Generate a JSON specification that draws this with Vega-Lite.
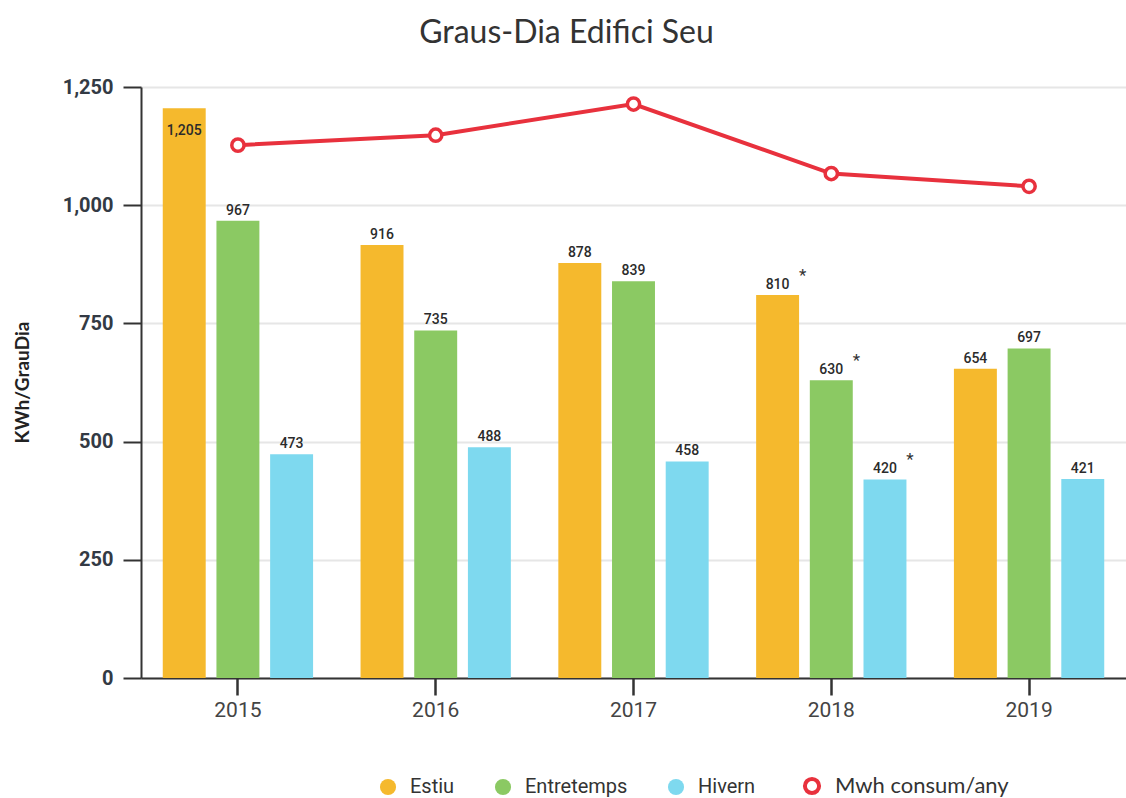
{
  "$schema": "https://vega.github.io/schema/vega-lite/v6.json",
  "width": 985,
  "height": 591,
  "autosize": {"type": "none"},
  "padding": {"left": 141, "top": 87, "right": 0, "bottom": 120},
  "background": "white",
  "title": {"text": "Graus-Dia Edifici Seu", "font": "Lato", "fontSize": 32, "fontWeight": "normal", "color": "#333333", "dx": -67, "offset": 27, "anchor": "middle"},
  "datasets": {
    "bars": [
      {"year": "2015", "serie": "Estiu", "value": 1205, "nota": ""},
      {"year": "2015", "serie": "Entretemps", "value": 967, "nota": ""},
      {"year": "2015", "serie": "Hivern", "value": 473, "nota": ""},
      {"year": "2016", "serie": "Estiu", "value": 916, "nota": ""},
      {"year": "2016", "serie": "Entretemps", "value": 735, "nota": ""},
      {"year": "2016", "serie": "Hivern", "value": 488, "nota": ""},
      {"year": "2017", "serie": "Estiu", "value": 878, "nota": ""},
      {"year": "2017", "serie": "Entretemps", "value": 839, "nota": ""},
      {"year": "2017", "serie": "Hivern", "value": 458, "nota": ""},
      {"year": "2018", "serie": "Estiu", "value": 810, "nota": "*"},
      {"year": "2018", "serie": "Entretemps", "value": 630, "nota": "*"},
      {"year": "2018", "serie": "Hivern", "value": 420, "nota": "*"},
      {"year": "2019", "serie": "Estiu", "value": 654, "nota": ""},
      {"year": "2019", "serie": "Entretemps", "value": 697, "nota": ""},
      {"year": "2019", "serie": "Hivern", "value": 421, "nota": ""}
    ],
    "line": [
      {"year": "2015", "serie": "Mwh consum/any", "value": 1127},
      {"year": "2016", "serie": "Mwh consum/any", "value": 1148},
      {"year": "2017", "serie": "Mwh consum/any", "value": 1214},
      {"year": "2018", "serie": "Mwh consum/any", "value": 1067},
      {"year": "2019", "serie": "Mwh consum/any", "value": 1040}
    ]
  },
  "config": {"view": {"stroke": null}},
  "encoding": {
    "x": {
      "field": "year", "type": "nominal",
      "scale": {"paddingInner": 0.24, "paddingOuter": 0.11},
      "axis": {"title": null, "labelAngle": 0, "labelFont": "Roboto", "labelFontSize": 21, "labelColor": "#444444", "labelPadding": 4, "tickSize": 17, "tickColor": "#333333", "tickWidth": 2.5, "domainColor": "#333333", "domainWidth": 2, "grid": false}
    },
    "y": {
      "field": "value", "type": "quantitative",
      "scale": {"domain": [0, 1250], "nice": false},
      "axis": {"values": [0, 250, 500, 750, 1000, 1250], "labelExpr": "format(datum.value, ',.0f')", "title": "KWh/GrauDia", "titleFont": "Lato", "titleFontSize": 19, "titleFontWeight": "bold", "titleColor": "#222222", "titleX": -119, "titleY": 295, "titleAngle": -90, "titleBaseline": "middle", "titleAlign": "center", "labelFont": "Roboto", "labelFontSize": 20, "labelFontWeight": "bold", "labelColor": "#333a44", "labelPadding": 10, "tickSize": 18, "tickColor": "#333333", "tickWidth": 2, "domainColor": "#333333", "domainWidth": 2, "grid": true, "gridColor": "#e6e6e6", "gridWidth": 2}
    }
  },
  "layer": [
    {
      "data": {"name": "bars"},
      "mark": {"type": "bar"},
      "encoding": {
        "xOffset": {"field": "serie", "type": "nominal", "scale": {"domain": ["Estiu", "Entretemps", "Hivern"], "paddingInner": 0.2}},
        "color": {
          "field": "serie", "type": "nominal",
          "scale": {"domain": ["Estiu", "Entretemps", "Hivern"], "range": ["#F5B92D", "#8BC963", "#7ED9EF"]},
          "legend": {
            "orient": "none", "legendX": 237, "legendY": 690, "direction": "horizontal", "title": null,
            "symbolType": "circle", "symbolSize": 260, "symbolOpacity": 1, "labelFont": "Roboto", "labelFontSize": 20, "labelColor": "#333333", "labelOffset": 12, "columnPadding": 38
          }
        }
      }
    },
    {
      "data": {"name": "bars"},
      "transform": [{"filter": "datum.value < 1200"}],
      "mark": {"type": "text", "baseline": "alphabetic", "dy": -6, "font": "Roboto", "fontSize": 14, "fontWeight": 500, "color": "#2b2b2b"},
      "encoding": {
        "xOffset": {"field": "serie", "type": "nominal", "scale": {"domain": ["Estiu", "Entretemps", "Hivern"], "paddingInner": 0.2}},
        "text": {"field": "value", "type": "quantitative", "format": ","}
      }
    },
    {
      "data": {"name": "bars"},
      "transform": [{"filter": "datum.value >= 1200"}],
      "mark": {"type": "text", "baseline": "alphabetic", "dy": 27, "font": "Roboto", "fontSize": 14, "fontWeight": 500, "color": "#2b2b2b"},
      "encoding": {
        "xOffset": {"field": "serie", "type": "nominal", "scale": {"domain": ["Estiu", "Entretemps", "Hivern"], "paddingInner": 0.2}},
        "text": {"field": "value", "type": "quantitative", "format": ","}
      }
    },
    {
      "data": {"name": "bars"},
      "transform": [{"filter": "datum.nota === '*'"}],
      "mark": {"type": "text", "baseline": "alphabetic", "dx": 25, "dy": -14, "font": "Roboto", "fontSize": 17, "color": "#333333"},
      "encoding": {
        "xOffset": {"field": "serie", "type": "nominal", "scale": {"domain": ["Estiu", "Entretemps", "Hivern"], "paddingInner": 0.2}},
        "text": {"field": "nota", "type": "nominal"}
      }
    },
    {
      "data": {"name": "line"},
      "mark": {"type": "line", "strokeWidth": 4},
      "encoding": {
        "stroke": {
          "field": "serie", "type": "nominal",
          "scale": {"domain": ["Mwh consum/any"], "range": ["#E8313D"]},
          "legend": {
            "orient": "none", "legendX": 660, "legendY": 688, "direction": "horizontal", "title": null,
            "symbolType": "circle", "symbolSize": 200, "symbolStrokeWidth": 4, "symbolFillColor": "white", "symbolOpacity": 1, "labelFont": "Lato", "labelFontSize": 22, "labelColor": "#333333", "labelOffset": 12, "labelLimit": 400
          }
        }
      }
    },
    {
      "data": {"name": "line"},
      "mark": {"type": "point", "filled": false, "fill": "white", "size": 150, "strokeWidth": 3.5, "opacity": 1},
      "encoding": {
        "stroke": {"field": "serie", "type": "nominal"}
      }
    }
  ]
}
